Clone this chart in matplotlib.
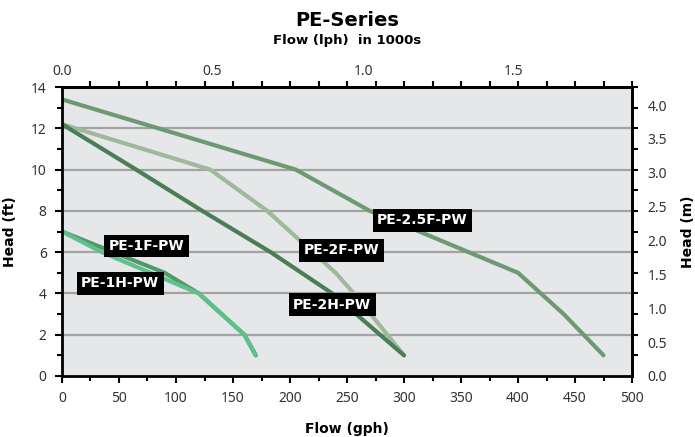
import matplotlib
matplotlib.use("Agg")
import matplotlib.pyplot as plt
from matplotlib.ticker import FixedLocator, NullFormatter

plt.rcParams['font.family'] = ['Noto Sans', 'DejaVu Sans']
BOLD = ['DejaVu Sans']

# pump curves: flow (gph) vs head (ft)
gph_25f = [0, 205, 270, 400, 440, 475]
ft_25f = [13.4, 10, 8, 5, 3, 1]
gph_2f = [0, 130, 180, 240, 256, 300]
ft_2f = [12.2, 10, 8, 5, 4, 1]
gph_2h = [0, 65, 123, 183, 237, 300]
ft_2h = [12.2, 10, 8, 6, 4, 1]
gph_1f = [0, 90, 120, 160, 170]
ft_1f = [7, 5, 4, 2, 1]
gph_1h = [0, 35, 120, 160, 170]
ft_1h = [7, 6, 4, 2, 1]

labels = ["PE-2.5F-PW", "PE-2F-PW", "PE-2H-PW", "PE-1F-PW", "PE-1H-PW"]
label_pos = [(316, 7.55), (245, 6.1), (237, 3.45), (74, 6.3), (51, 4.5)]

lph_ticks = [0.0, 0.5, 1.0, 1.5]
m_ticks = [0.0, 0.5, 1.0, 1.5, 2.0, 2.5, 3.0, 3.5, 4.0]

GAL = 3.78541
FT = 0.3048

fig = plt.figure(figsize=(6.95, 4.37), dpi=100)
ax = fig.add_axes([0.0892, 0.1396, 0.8202, 0.6613])
ax.set_facecolor("#E6E7E9")

for y in range(2, 14, 2):
    ax.axhline(y, color="#A3A3A3", lw=1.6, zorder=1)

ax.plot(gph_25f, ft_25f, color="#6E9A73", lw=3, zorder=3, solid_capstyle="round")
ax.plot(gph_2f, ft_2f, color="#9EB99B", lw=3, zorder=3, solid_capstyle="round")
ax.plot(gph_2h, ft_2h, color="#4A7E57", lw=3, zorder=3, solid_capstyle="round")
ax.plot(gph_1f, ft_1f, color="#4F9A6C", lw=3, zorder=3, solid_capstyle="round")
ax.plot(gph_1h, ft_1h, color="#5EC08B", lw=3, zorder=3, solid_capstyle="round")

for txt, (x, y) in zip(labels, label_pos):
    ax.text(x, y, txt, color="white", fontsize=10, fontweight="bold", family=BOLD,
            ha="center", va="center", zorder=5,
            bbox=dict(boxstyle="square,pad=0.32", fc="black", ec="none"))

ax.set_xlim(0, 500)
ax.set_ylim(0, 14)
ax.set_xticks(range(0, 501, 50))
ax.xaxis.set_minor_locator(FixedLocator(range(25, 500, 50)))
ax.set_yticks(range(0, 15, 2))
ax.yaxis.set_minor_locator(FixedLocator(range(1, 14, 2)))
ax.tick_params(which="both", direction="out", width=1.5, colors="black",
               labelcolor="#333333", labelsize=10, right=False, top=False)
ax.tick_params(which="major", length=5, pad=6)
ax.tick_params(which="minor", length=3.5)
for s in ax.spines.values():
    s.set_linewidth(2)
    s.set_zorder(6)

ax.set_xlabel("Flow (gph)", fontsize=10, fontweight="bold", family=BOLD, labelpad=11)
ax.set_ylabel("Head (ft)", fontsize=10, fontweight="bold", family=BOLD, labelpad=10)

top = ax.secondary_xaxis("top", functions=(lambda g: g * GAL / 1000, lambda l: l * 1000 / GAL))
top.set_xticks(lph_ticks)
top.set_xticklabels(["%.1f" % v for v in lph_ticks])
top.xaxis.set_minor_locator(FixedLocator([g * GAL / 1000 for g in range(0, 501, 25)]))
top.xaxis.set_minor_formatter(NullFormatter())
top.tick_params(which="major", length=0, pad=6, labelsize=10, labelcolor="#333333")
top.tick_params(which="minor", length=4, width=1.5)
top.spines["top"].set_linewidth(2)

right = ax.secondary_yaxis("right", functions=(lambda f: f * FT, lambda m: m / FT))
right.set_yticks(m_ticks)
right.set_yticklabels(["%.1f" % v for v in m_ticks])
right.yaxis.set_minor_locator(FixedLocator([f * FT for f in range(0, 15)]))
right.yaxis.set_minor_formatter(NullFormatter())
right.tick_params(which="major", length=0, pad=11, labelsize=10, labelcolor="#333333")
right.tick_params(which="minor", length=4, width=1.5)
right.spines["right"].set_linewidth(2)
right.set_ylabel("Head (m)", fontsize=10, fontweight="bold", family=BOLD, labelpad=10)

fig.text(0.4993, 0.953, "PE-Series", ha="center", va="center", fontsize=14,
         fontweight="bold", family=BOLD)
fig.text(0.4993, 0.908, "Flow (lph)  in 1000s", ha="center", va="center", fontsize=9.5,
         fontweight="bold", family=BOLD)

fig.savefig("out.png", dpi=100)
